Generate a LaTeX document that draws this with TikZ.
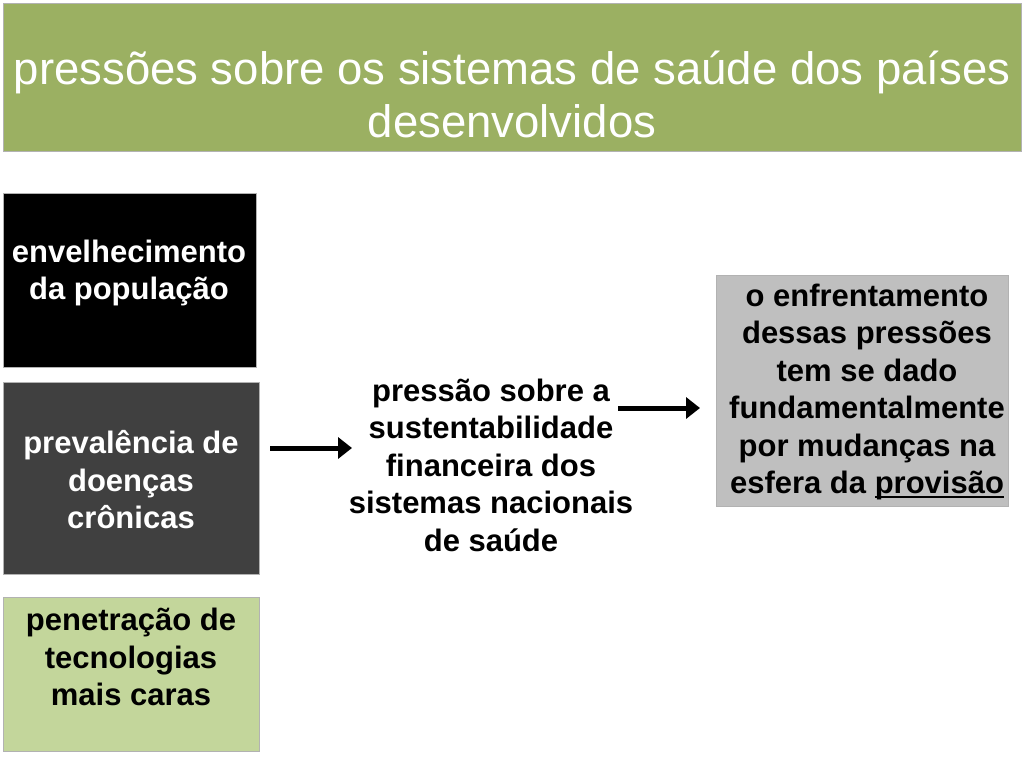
\documentclass[tikz,border=0pt]{standalone}
\usepackage{fontspec}
\setmainfont{Liberation Sans}
\usetikzlibrary{arrows.meta}
\definecolor{titlegreen}{HTML}{9BB062}
\definecolor{darkbox}{HTML}{404040}
\definecolor{lightgreen}{HTML}{C3D69B}
\definecolor{greybox}{HTML}{BFBFBF}
\newcommand\thickul[1]{\setbox0\hbox{#1}\rlap{\rule[-4.5pt]{\wd0}{2pt}}\box0}
\begin{document}
\begin{tikzpicture}[x=1pt,y=-1pt,
  box/.style={draw=black!30, line width=0.7pt, inner sep=0pt, anchor=north west},
  txt/.style={align=center, font=\bfseries\fontsize{31}{37.5}\selectfont, inner sep=0pt},
  arr/.style={-{Triangle[length=14pt,width=21pt]}, line width=5pt}]
\useasboundingbox[fill=white] (0,0) rectangle (1024,768);

% title
\node[box, fill=titlegreen, minimum width=1018pt, minimum height=148pt] (title) at (3,3) {};
\node[font=\fontsize{45.5}{53}\selectfont, text=white, align=center, inner sep=0pt] (tt) at (512,94)
  {pressões sobre os sistemas de saúde dos países\\desenvolvidos};

% left boxes
\node[box, fill=black, minimum width=253pt, minimum height=174pt] (b1) at (3,193) {};
\node[txt, text=white] (t1) at (129,273) {envelhecimento\\da população};

\node[box, fill=darkbox, minimum width=256pt, minimum height=192pt] (b2) at (3,382) {};
\node[txt, text=white] (t2) at (131,480) {prevalência de\\doenças\\crônicas};

\node[box, fill=lightgreen, minimum width=256pt, minimum height=154pt] (b3) at (3,597) {};
\node[txt, text=black] (t3) at (131,657) {penetração de\\tecnologias\\mais caras};

% middle text
\node[txt, text=black] (mid) at (491,465) {pressão sobre a\\sustentabilidade\\financeira dos\\sistemas nacionais\\de saúde};

% right box
\node[box, fill=greybox, minimum width=292pt, minimum height=231pt] (b4) at (716,275) {};
\node[txt, text=black] (t4) at (867,392) {o enfrentamento\\dessas pressões\\tem se dado\\fundamentalmente\\por mudanças na\\esfera da \thickul{provisão}};

% arrows
\coordinate (a1s) at (270,448);
\coordinate (a1e) at (352,448);
\coordinate (a2s) at (618,408);
\coordinate (a2e) at (700,408);
\draw[arr] (a1s) -- (a1e);
\draw[arr] (a2s) -- (a2e);
\end{tikzpicture}
\end{document}
